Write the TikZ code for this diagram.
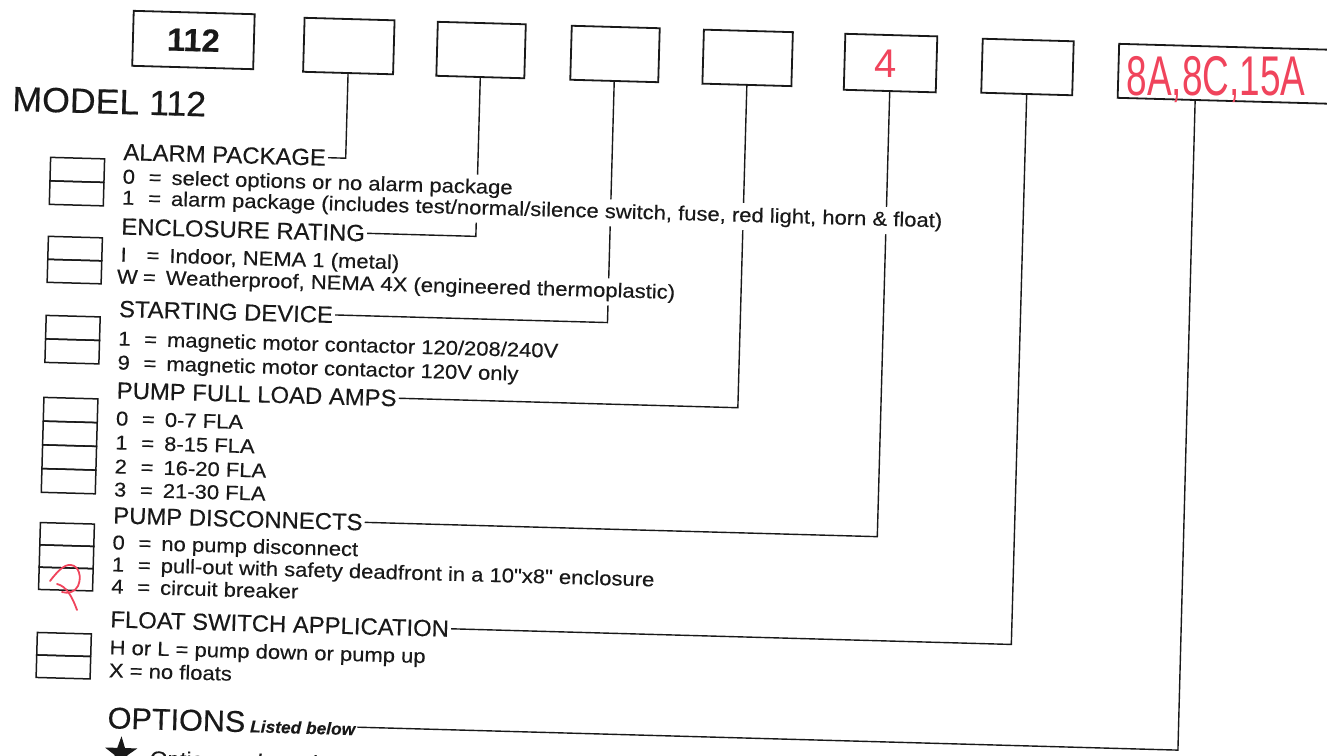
\documentclass[tikz,border=0pt]{standalone}
\usepackage{fontspec}
\setmainfont{Liberation Sans}[Ligatures=TeXOff, FakeStretch=1.02, FakeBold=0.35]
\newfontfamily\bodyfont{Liberation Sans}[Ligatures=TeXOff, FakeStretch=1.1, FakeBold=0.35]
\newfontfamily\handfont{Liberation Sans}
\usetikzlibrary{calc,shapes.geometric,backgrounds}
\pgfdeclarelayer{knock}
\pgfsetlayers{background,knock,main}
\definecolor{ink}{RGB}{25,25,25}
\definecolor{pen}{RGB}{240,68,92}
\newcommand{\kv}[2]{\makebox[26pt][l]{#1}=\hspace{10pt}#2}
\begin{document}
\begin{tikzpicture}[x=1pt,y=-1pt,
  topbox/.style={draw=ink, line width=1.8pt, minimum height=54pt, inner sep=0pt},
  cell/.style={draw=ink, line width=1.5pt, minimum width=54pt, inner sep=0pt},
  hd/.style={anchor=west, inner xsep=2pt, inner ysep=1pt, text=ink, font=\fontsize{23.4}{24}\selectfont},
  bd/.style={anchor=base west, inner xsep=1pt, inner ysep=0pt, text=ink, font=\bodyfont\fontsize{20}{21}\selectfont},
  conn/.style={draw=ink, line width=1.4pt},
  hand/.style={text=pen, inner sep=0pt},
  scribble/.style={draw=pen, line width=1.8pt, line cap=round, line join=round}
]
\useasboundingbox (0,0) rectangle (1327,755);
\begin{pgfonlayer}{background}
\fill[white] (0,0) rectangle (1327,755);
\end{pgfonlayer}
\begin{scope}[rotate=-1.6, transform shape]
% top code boxes
\node[topbox, minimum width=121pt, minimum height=55pt, font=\fontsize{32}{32}\selectfont\bfseries, text=ink] (b1) at (194.5,34.6) {112};
\node[topbox, minimum width=90pt] (b2) at (350,36.3) {};
\node[topbox, minimum width=88pt] (b3) at (482.3,36.6) {};
\node[topbox, minimum width=88pt] (b4) at (616.3,36.8) {};
\node[topbox, minimum width=89pt] (b5) at (749,37) {};
\node[topbox, minimum width=92pt, minimum height=56pt] (b6) at (892,38.2) {};
\node[topbox, minimum width=91pt] (b7) at (1029,38.3) {};
\node[topbox, minimum width=250pt] (b8) at (1245,39.6) {};
\coordinate (t8) at ($(b8.south west)+(78.5,0)$);
\node[anchor=base west, inner sep=0pt, text=ink, font=\fontsize{35}{35}\selectfont] (model) at (15,110.6) {MODEL 112};
% left cells
\node[cell, minimum height=23.5pt] (ca1) at (82,167.65) {};
\node[cell, minimum height=23.5pt] (ca2) at (82,191.15) {};
\node[cell, minimum height=23pt] (ce1) at (82,246.4) {};
\node[cell, minimum height=23pt] (ce2) at (82,269.4) {};
\node[cell, minimum height=23.5pt] (cs1) at (82,325.75) {};
\node[cell, minimum height=23.5pt] (cs2) at (82,349.25) {};
\node[cell, minimum height=23.75pt] (cf1) at (82,407.9) {};
\node[cell, minimum height=23.75pt] (cf2) at (82,431.6) {};
\node[cell, minimum height=23.75pt] (cf3) at (82,455.4) {};
\node[cell, minimum height=23.75pt] (cf4) at (82,479.1) {};
\node[cell, minimum height=22.3pt] (cd1) at (82,532.4) {};
\node[cell, minimum height=22.3pt] (cd2) at (82,554.7) {};
\node[cell, minimum height=22.3pt] (cd3) at (82,577) {};
\node[cell, minimum height=22.5pt] (cw1) at (82,642.45) {};
\node[cell, minimum height=22.5pt] (cw2) at (82,664.95) {};
% texts
\node[hd] (hA) at (125.5,148.5) {ALARM PACKAGE};
\node[bd] (a0) at (126.5,180) {\kv{0}{select options or no alarm package}};
\node[bd] (a1) at (126.5,201) {\kv{1}{alarm package (includes test/normal/silence switch, fuse, red light, horn \& float)}};
\node[hd] (hE) at (125.5,223) {ENCLOSURE RATING};
\node[bd] (e0) at (126.5,258) {\kv{I}{Indoor, NEMA 1 (metal)}};
\node[bd] (e1) at (123.5,280) {\kv{W}{Weatherproof, NEMA 4X (engineered thermoplastic)}};
\node[hd] (hS) at (125.5,305.5) {STARTING DEVICE};
\node[bd] (s1) at (126.5,342) {\kv{1}{magnetic motor contactor 120/208/240V}};
\node[bd] (s9) at (126.5,366) {\kv{9}{magnetic motor contactor 120V only}};
\node[hd] (hF) at (125.5,387) {PUMP FULL LOAD AMPS};
\node[bd] (f0) at (126.5,422) {\kv{0}{0-7 FLA}};
\node[bd] (f1) at (126.5,446) {\kv{1}{8-15 FLA}};
\node[bd] (f2) at (126.5,470) {\kv{2}{16-20 FLA}};
\node[bd] (f3) at (126.5,493) {\kv{3}{21-30 FLA}};
\node[hd] (hD) at (125.5,512) {PUMP DISCONNECTS};
\node[bd] (d0) at (126.5,546) {\kv{0}{no pump disconnect}};
\node[bd] (d1) at (126.5,568) {\kv{1}{pull-out with safety deadfront in a 10"x8" enclosure}};
\node[bd] (d4) at (126.5,590) {\kv{4}{circuit breaker}};
\node[hd] (hW) at (125.5,616) {FLOAT SWITCH APPLICATION};
\node[bd] (w0) at (126.5,651) {H or L = pump down or pump up};
\node[bd] (w1) at (126.5,674) {X = no floats};
\node[anchor=base west, inner xsep=2pt, inner ysep=1pt, text=ink, font=\fontsize{30}{30}\selectfont] (hO) at (125.5,725) {OPTIONS\hspace{5pt}{\fontsize{17}{17}\selectfont\bfseries\itshape Listed below}};
\coordinate (oL) at ($(hO.base east)+(0,-8)$);
\node[star, star points=5, star point ratio=2.6, fill=ink, minimum size=34pt, inner sep=0pt] (st) at (142,749.6) {};
\node[anchor=base west, inner sep=0pt, text=ink, font=\bodyfont\fontsize{20.5}{21}\selectfont] (opt) at (171,761) {Options selected};
% corners
\coordinate (cA) at (350,148.5);
\coordinate (cE) at (482.3,223);
\coordinate (cS) at (616.3,305.5);
\coordinate (cF) at (749,387);
\coordinate (cD) at (892,512);
\coordinate (cW) at (1029,616);
\coordinate (cO) at (1198.5,717);
\begin{pgfonlayer}{background}
\draw[conn] (hA.east) -- (cA) -- (b2.south);
\draw[conn] (hE.east) -- (cE) -- (b3.south);
\draw[conn] (hS.east) -- (cS) -- (b4.south);
\draw[conn] (hF.east) -- (cF) -- (b5.south);
\draw[conn] (hD.east) -- (cD) -- (b6.south);
\draw[conn] (hW.east) -- (cW) -- (b7.south);
\draw[conn] (oL) -- (cO) -- (t8);
\end{pgfonlayer}
\begin{pgfonlayer}{knock}
\foreach \n in {a0,a1,e1}
  \fill[white] ($(\n.north west)+(0,-4)$) -- ($(\n.north east)+(0,-4)$) -- ($(\n.south east)+(0,4)$) -- ($(\n.south west)+(0,4)$) -- cycle;
\end{pgfonlayer}
\end{scope}
% handwritten marks
\node[hand, font=\handfont\fontsize{40}{40}\selectfont] (r4) at (886,64) {4};
\node[hand, font=\handfont\fontsize{56}{56}\selectfont, xscale=0.66] (r8) at (1216,80) {8A,8C,15A};
\draw[scribble] (50,581) .. controls (57,572) and (64,564) .. (71,565)
  .. controls (79,566) and (82,577) .. (78,586)
  .. controls (75,592) and (68,594) .. (62,592);
\draw[scribble] (57,584) .. controls (66,586) and (72,596) .. (77,610);
\end{tikzpicture}
\end{document}
